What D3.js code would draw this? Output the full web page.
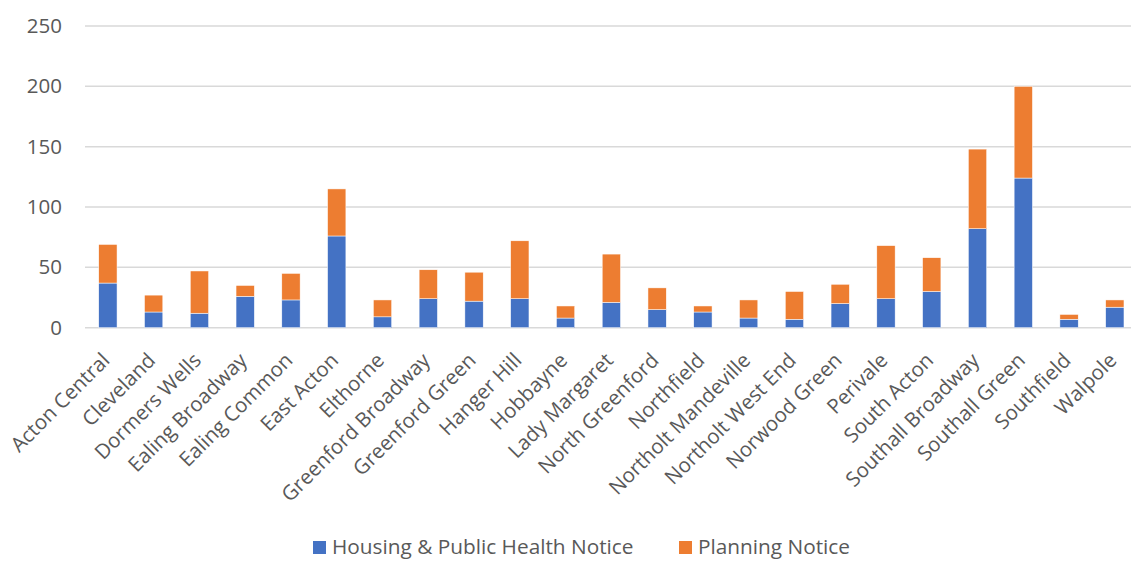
<!DOCTYPE html>
<html>
<head>
<meta charset="utf-8">
<script src="https://cdn.jsdelivr.net/npm/d3@7"></script>
<style>
  body { margin: 0; background: #fff; }
  text { font-family: "Open Sans", sans-serif; fill: #595959; }
</style>
</head>
<body>
<script>
// wards along the x axis
var wards = ["Acton Central", "Cleveland", "Dormers Wells", "Ealing Broadway", "Ealing Common",
  "East Acton", "Elthorne", "Greenford Broadway", "Greenford Green", "Hanger Hill", "Hobbayne",
  "Lady Margaret", "North Greenford", "Northfield", "Northolt Mandeville", "Northolt West End",
  "Norwood Green", "Perivale", "South Acton", "Southall Broadway", "Southall Green", "Southfield", "Walpole"];

var housing  = [37, 13, 12, 26, 23, 76, 9, 24, 22, 24, 8, 21, 15, 13, 8, 7, 20, 24, 30, 82, 124, 7, 17];
var planning = [32, 14, 35, 9, 22, 39, 14, 24, 24, 48, 10, 40, 18, 5, 15, 23, 16, 44, 28, 66, 76, 4, 6];

var seriesNames = ["Housing & Public Health Notice", "Planning Notice"];
var colors = ["#4472C4", "#ED7D31"];
var yTicks = [0, 50, 100, 150, 200, 250];

var W = 1131, H = 561;
var margin = {top: 26, left: 85, bottom: 233};

var svg = d3.select("body").append("svg")
  .attr("width", W)
  .attr("height", H);

var x = d3.scaleBand()
  .domain(wards)
  .range([margin.left, margin.left + 23 * 45.77])
  .paddingInner(0.6)
  .paddingOuter(0.3);

var y = d3.scaleLinear()
  .domain([0, 250])
  .range([H - margin.bottom - 0.3, margin.top]);

// gridlines
svg.append("g")
  .selectAll("line")
  .data(yTicks)
  .enter().append("line")
    .attr("x1", margin.left)
    .attr("x2", W)
    .attr("y1", function(d) { return y(d); })
    .attr("y2", function(d) { return y(d); })
    .attr("stroke", "#d9d9d9")
    .attr("stroke-width", 1.5);

// y labels
var yAxis = d3.axisLeft(y).tickValues(yTicks).tickSize(0).tickPadding(23);
svg.append("g")
  .attr("transform", "translate(" + margin.left + ",0)")
  .call(yAxis)
  .call(function(g) { g.select(".domain").remove(); })
  .selectAll("text")
    .style("font-size", "20.5px")
    .style("font-family", "Open Sans, sans-serif")
    .attr("fill", "#595959");

// stacked bars
var rows = wards.map(function(w, i) { return {ward: w, housing: housing[i], planning: planning[i]}; });
var stack = d3.stack().keys(["housing", "planning"])(rows);

svg.append("g")
  .selectAll("g")
  .data(stack)
  .enter().append("g")
    .attr("fill", function(d, i) { return colors[i]; })
  .selectAll("rect")
  .data(function(d) { return d; })
  .enter().append("rect")
    .attr("x", function(d) { return x(d.data.ward); })
    .attr("width", x.bandwidth())
    .attr("y", function(d) { return y(d[1]); })
    .attr("height", function(d) { return y(d[0]) - y(d[1]); })
    .attr("stroke", "#fff")
    .attr("stroke-width", 0.5);

// x labels
var xAxis = d3.axisBottom(x).tickSize(0).tickPadding(0);
svg.append("g")
  .attr("transform", "translate(0," + y(0) + ")")
  .call(xAxis)
  .call(function(g) { g.select(".domain").remove(); })
  .selectAll("text")
    .style("font-size", "20.5px")
    .style("font-family", "Open Sans, sans-serif")
    .attr("fill", "#595959")
    .attr("text-anchor", "end")
    .attr("dy", 0)
    .attr("transform", "translate(3,34) rotate(-45)");

// legend
var legend = svg.append("g");
var legendX = [313, 679];
seriesNames.forEach(function(name, i) {
  legend.append("rect")
    .attr("x", legendX[i])
    .attr("y", 541)
    .attr("width", 13)
    .attr("height", 13)
    .attr("fill", colors[i]);
  legend.append("text")
    .attr("x", legendX[i] + 19)
    .attr("y", 554)
    .style("font-size", "20.8px")
    .text(name);
});
</script>
</body>
</html>
